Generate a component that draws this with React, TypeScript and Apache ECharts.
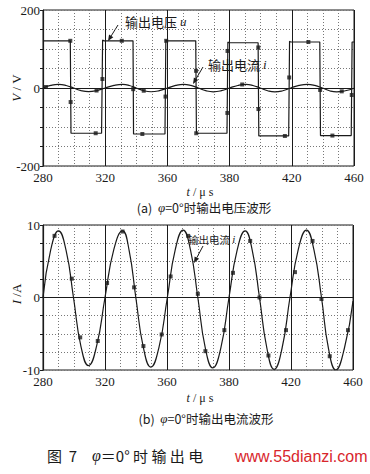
import React, { useEffect, useRef } from "react";
import * as echarts from "echarts";

// ---- data (time in µs as read on the plot scale, values in V / A) ----
const T0 = 280;
const T1 = 460;
const MAJOR = 36; // spacing of the printed tick lines on the time scale
const xTickLabels = ["280", "320", "360", "380", "420", "460"];
const yTopTickLabels = [-200, 0, 200];
const yBottomTickLabels = [-10, 0, 10];

const voltageU: [number, number][] = [
  [280, 121], [295.8, 121], [296.2, -116], [313.9, -116], [314.5, 123], [315.2, 121],
  [332.1, 121], [332.4, -118], [350.6, -118], [351.1, 123], [351.6, 121],
  [368.4, 121], [368.8, -116], [386.5, -116], [387.0, 118], [387.5, 116],
  [404.5, 116], [404.9, -123], [422.2, -123], [422.7, 120], [423.2, 118],
  [440.2, 118], [440.6, -122], [458.4, -122], [458.9, 118], [460, 118],
];

const voltageMarkers: [number, number][] = [
  [295.8, 121], [296.0, -36], [310.5, -116], [314.4, 23], [325.6, 121],
  [332.2, -3], [337.5, -118], [350.9, -22], [351.3, 121], [368.6, 44],
  [368.7, -116], [386.8, 95], [386.7, -64], [404.6, 104], [404.7, -54],
  [420.0, -123], [422.5, 27], [433.6, 118], [440.4, -5], [447.5, -122],
  [458.7, -18],
];

const currentI: [number, number][] = [
  [280, 0], [284.5, 6.6], [289.0, 9.2], [293.4, 6.5], [297.7, 0], [302.0, -6.7],
  [306.4, -9.4], [311.2, -6.6], [316.0, 0], [321.1, 6.6], [326.2, 9.2], [330.0, 6.5],
  [333.9, 0], [338.2, -6.8], [342.6, -9.6], [347.4, -6.8], [352.2, 0], [356.8, 6.6],
  [361.4, 9.3], [365.6, 6.6], [369.9, 0], [374.2, -6.9], [378.6, -9.7], [383.3, -6.9],
  [388.0, 0], [392.7, 6.5], [397.4, 9.2], [401.5, 6.5], [405.7, 0], [410.0, -7.0],
  [414.2, -9.9], [418.8, -7.0], [423.4, 0], [428.2, 6.6], [433.0, 9.3], [437.3, 6.6],
  [441.7, 0], [445.8, -7.1], [450.0, -10.0], [455.0, -7.0], [460, -0.5],
];

const currentMarkersTop: [number, number][] = [
  [281.7, 2.5], [311.0, -6.5], [338.3, -7.0], [395.3, 9.0], [452.9, -8.6],
];

const currentMarkersBottom: [number, number][] = [
  [286.7, 8.5], [296.7, 2.6], [301.6, -5.5], [311.8, -6.0], [317.2, 2.0],
  [326.2, 9.1], [332.9, 1.4], [338.3, -6.7], [348.9, -5.1], [354.1, 2.9],
  [364.3, 8.5], [369.9, 0.5], [374.3, -7.4], [385.3, -4.5], [390.3, 3.4],
  [400.3, 7.8], [405.7, 0], [410.9, -8.0], [421.1, -4.5], [426.3, 3.5],
  [436.5, 7.8], [441.7, -0.2], [446.5, -8.1], [457.1, -4.5],
];

const shift = (arr: [number, number][]) => arr.map(([t, v]) => [t - T0, v]);

const SERIF = "'Liberation Serif', 'Noto Sans CJK SC', serif";
const CJK = "'Noto Sans CJK SC', 'Liberation Serif', sans-serif";
const INK = "#1a1a1a";

function xAxis(gridIndex: number) {
  return {
    type: "value",
    gridIndex,
    min: 0,
    max: T1 - T0,
    interval: MAJOR,
    axisLine: { show: true, lineStyle: { color: INK, width: 1 } },
    axisTick: { show: true, inside: true, length: 3, lineStyle: { color: INK } },
    axisLabel: {
      formatter: (v: number) => xTickLabels[Math.round(v / MAJOR)] ?? "",
      fontFamily: SERIF,
      fontSize: 13,
      color: INK,
      margin: 5,
    },
    splitLine: { show: true, lineStyle: { color: INK, width: 1, type: "solid" } },
    minorTick: { show: false, splitNumber: 4 },
    minorSplitLine: { show: true, lineStyle: { color: "#777", width: 1, type: [1, 2] } },
  };
}

function yAxis(gridIndex: number, min: number, max: number, interval: number, labels: number[]) {
  return {
    type: "value",
    gridIndex,
    min,
    max,
    interval,
    axisLine: { show: true, lineStyle: { color: INK, width: 1.2 } },
    axisTick: { show: true, length: 3, lineStyle: { color: INK } },
    axisLabel: {
      formatter: (v: number) => (labels.includes(v) ? String(v) : ""),
      fontFamily: SERIF,
      fontSize: 13,
      color: INK,
      margin: 3,
    },
    splitLine: { show: true, lineStyle: { color: "#777", width: 1, type: [1, 2] } },
  };
}

function arrow(x1: number, y1: number, x2: number, y2: number) {
  const ang = Math.atan2(y2 - y1, x2 - x1);
  const L = 6;
  const W = 2.5;
  const bx = x2 - L * Math.cos(ang);
  const by = y2 - L * Math.sin(ang);
  const px = -Math.sin(ang) * W;
  const py = Math.cos(ang) * W;
  return [
    { type: "line", shape: { x1, y1, x2: bx, y2: by }, style: { stroke: INK, lineWidth: 1 } },
    {
      type: "polygon",
      shape: { points: [[x2, y2], [bx + px, by + py], [bx - px, by - py]] },
      style: { fill: INK },
    },
  ];
}

export default function App() {
  const ref = useRef<HTMLDivElement>(null);
  useEffect(() => {
    if (!ref.current) return;
    const chart = echarts.init(ref.current, null, { renderer: "svg" });
    const zeroLine = {
      silent: true,
      symbol: "none",
      label: { show: false },
      lineStyle: { color: INK, width: 1, type: "solid" },
      data: [{ yAxis: 0 }],
    };
    chart.setOption({
      animation: false,
      backgroundColor: "#ffffff",
      grid: [
        { left: 43, top: 10, width: 311, height: 156, show: true, borderColor: INK, borderWidth: 1, backgroundColor: "transparent" },
        { left: 43, top: 225, width: 310, height: 145, show: true, borderColor: INK, borderWidth: 1, backgroundColor: "transparent" },
      ],
      xAxis: [xAxis(0), xAxis(1)],
      yAxis: [
        yAxis(0, -200, 200, 50, yTopTickLabels),
        yAxis(1, -10, 10, 2.5, yBottomTickLabels),
      ],
      series: [
        {
          type: "line",
          xAxisIndex: 0,
          yAxisIndex: 0,
          data: shift(currentI),
          smooth: 0.5,
          showSymbol: false,
          lineStyle: { color: INK, width: 1.2 },
          markLine: zeroLine,
          z: 2,
        },
        {
          type: "line",
          xAxisIndex: 0,
          yAxisIndex: 0,
          data: shift(voltageU),
          showSymbol: false,
          lineStyle: { color: INK, width: 1.2 },
          z: 3,
        },
        {
          type: "scatter",
          xAxisIndex: 0,
          yAxisIndex: 0,
          data: shift(voltageMarkers),
          symbol: "rect",
          symbolSize: 4,
          itemStyle: { color: INK },
          z: 4,
        },
        {
          type: "scatter",
          xAxisIndex: 0,
          yAxisIndex: 0,
          data: shift(currentMarkersTop),
          symbol: "rect",
          symbolSize: 4,
          itemStyle: { color: INK },
          z: 4,
        },
        {
          type: "line",
          xAxisIndex: 1,
          yAxisIndex: 1,
          data: shift(currentI),
          smooth: 0.5,
          showSymbol: false,
          lineStyle: { color: INK, width: 1.2 },
          markLine: zeroLine,
          z: 3,
        },
        {
          type: "scatter",
          xAxisIndex: 1,
          yAxisIndex: 1,
          data: shift(currentMarkersBottom),
          symbol: "rect",
          symbolSize: 4,
          itemStyle: { color: INK },
          z: 4,
        },
      ],
      graphic: [
        // axis names
        {
          type: "text", x: 16, y: 88, rotation: Math.PI / 2,
          style: {
            text: "{i|V} / V", fill: INK, font: `13px ${SERIF}`, align: "center", verticalAlign: "middle",
            rich: { i: { fontStyle: "italic", fontFamily: SERIF, fontSize: 13 } },
          },
        },
        {
          type: "text", x: 16, y: 294, rotation: Math.PI / 2,
          style: {
            text: "{i|I} /A", fill: INK, font: `13px ${SERIF}`, align: "center", verticalAlign: "middle",
            rich: { i: { fontStyle: "italic", fontFamily: SERIF, fontSize: 13 } },
          },
        },
        {
          type: "text", x: 200, y: 192,
          style: {
            text: "{i|t} / μ s", fill: INK, font: `12px ${SERIF}`, align: "center", verticalAlign: "middle",
            rich: { i: { fontStyle: "italic", fontFamily: SERIF, fontSize: 12 } },
          },
        },
        {
          type: "text", x: 200, y: 398,
          style: {
            text: "{i|t} / μ s", fill: INK, font: `12px ${SERIF}`, align: "center", verticalAlign: "middle",
            rich: { i: { fontStyle: "italic", fontFamily: SERIF, fontSize: 12 } },
          },
        },
        // captions
        {
          type: "text", x: 204, y: 207,
          style: {
            text: "(a)  {i|φ}=0°时输出电压波形", fill: INK, font: `12.5px ${CJK}`, align: "center", verticalAlign: "middle",
            rich: { i: { fontStyle: "italic", fontFamily: SERIF, fontSize: 13 } },
          },
        },
        {
          type: "text", x: 206, y: 418,
          style: {
            text: "(b)  {i|φ}=0°时输出电流波形", fill: INK, font: `12.5px ${CJK}`, align: "center", verticalAlign: "middle",
            rich: { i: { fontStyle: "italic", fontFamily: SERIF, fontSize: 13 } },
          },
        },
        {
          type: "text", x: 47, y: 455,
          style: { text: "图  7", fill: INK, font: `15px ${CJK}`, align: "left", verticalAlign: "middle" },
        },
        {
          type: "text", x: 92, y: 455,
          style: {
            text: "{i|φ}＝0° 时 输 出 电", fill: INK, font: `15px ${CJK}`, align: "left", verticalAlign: "middle",
            rich: { i: { fontStyle: "italic", fontFamily: SERIF, fontSize: 16 } },
          },
        },
        {
          type: "text", x: 235, y: 456,
          style: { text: "www.55dianzi.com", fill: "#d8262c", font: `16px 'Liberation Sans', Arial, sans-serif`, align: "left", verticalAlign: "middle" },
        },
        // annotations
        {
          type: "text", x: 125, y: 21,
          style: {
            text: "输出电压 {i|u}", fill: INK, font: `13px ${CJK}`, align: "left", verticalAlign: "middle",
            backgroundColor: "#fff",
            rich: { i: { fontStyle: "italic", fontFamily: SERIF, fontSize: 13 } },
          },
        },
        ...arrow(118, 25, 108, 41),
        {
          type: "text", x: 208, y: 64,
          style: {
            text: "输出电流 {i|i}", fill: INK, font: `13px ${CJK}`, align: "left", verticalAlign: "middle",
            backgroundColor: "#fff",
            rich: { i: { fontStyle: "italic", fontFamily: SERIF, fontSize: 13 } },
          },
        },
        ...arrow(203, 67, 193, 84),
        {
          type: "text", x: 188, y: 239,
          style: {
            text: "输出电流 {i|i}", fill: INK, font: `10.5px ${CJK}`, align: "left", verticalAlign: "middle",
            rich: { i: { fontStyle: "italic", fontFamily: SERIF, fontSize: 11 } },
          },
        },
        ...arrow(203, 246, 194, 263),
      ],
    });
    return () => chart.dispose();
  }, []);
  return <div ref={ref} style={{ width: 370, height: 474, position: "absolute", left: 0, top: 0 }} />;
}
